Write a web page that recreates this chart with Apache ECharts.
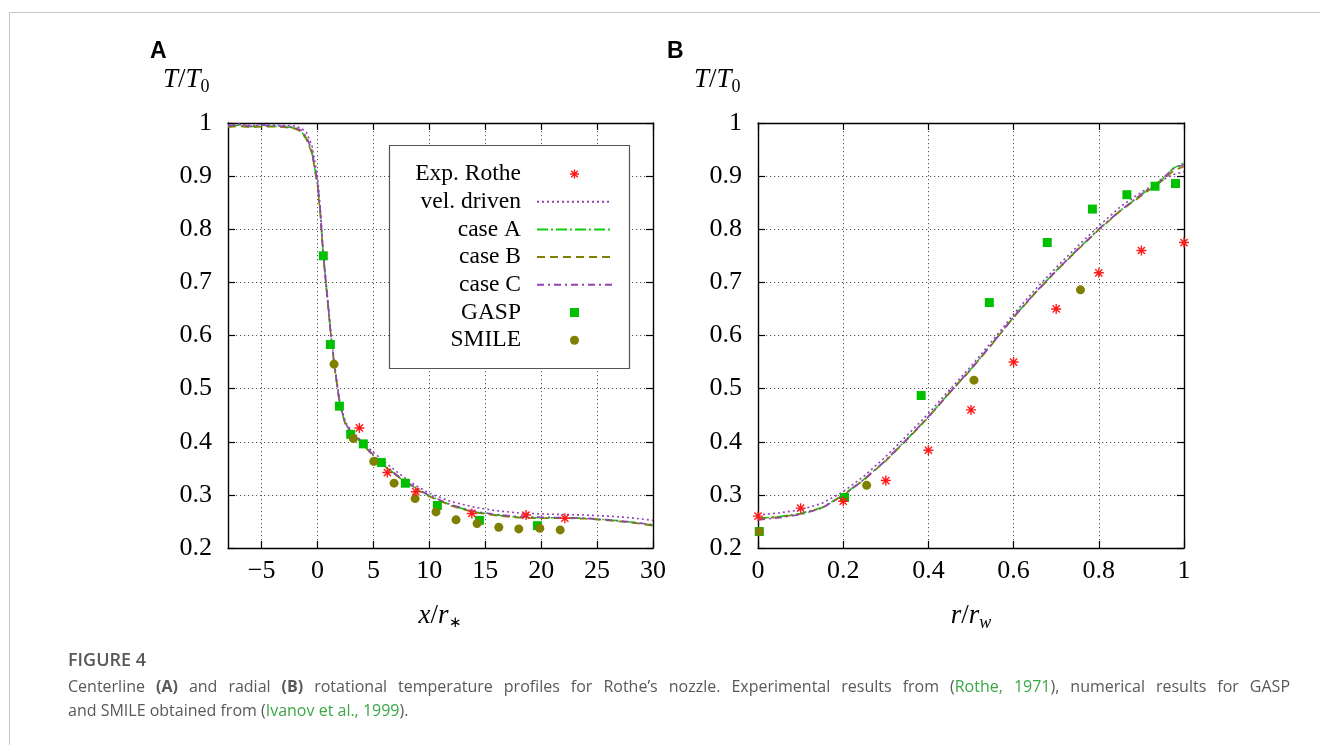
<!DOCTYPE html>
<html>
<head>
<meta charset="utf-8">
<script src="https://cdn.jsdelivr.net/npm/echarts@6/dist/echarts.min.js"></script>
<style>
html,body{margin:0;padding:0;background:#fff;}
#chart{width:1320px;height:745px;}
</style>
</head>
<body>
<div id="chart"></div>
<script>
// ---------- Panel A : centerline profile ----------
const xTicksA = [-5, 0, 5, 10, 15, 20, 25, 30];
const xA = [-8, -7, -6, -5, -4, -3, -2.5, -2, -1.5, -1, -0.5, 0, 0.25, 0.5, 0.75, 1, 1.25, 1.5, 2, 2.5, 3, 3.5, 4, 5, 6, 7, 8, 9, 10, 12, 14, 16, 18, 20, 22, 24, 26, 28, 30];
const aVelDriven = [0.996, 0.998, 0.995, 0.997, 0.996, 0.995, 0.995, 0.994, 0.991, 0.983, 0.958, 0.9, 0.84, 0.762, 0.705, 0.65, 0.595, 0.55, 0.474, 0.437, 0.421, 0.411, 0.4, 0.38, 0.362, 0.345, 0.329, 0.315, 0.303, 0.287, 0.277, 0.27, 0.266, 0.264, 0.263, 0.262, 0.26, 0.257, 0.252];
const aCaseA = [0.994, 0.996, 0.993, 0.995, 0.994, 0.993, 0.992, 0.99, 0.985, 0.972, 0.945, 0.885, 0.832, 0.755, 0.7, 0.645, 0.59, 0.545, 0.47, 0.433, 0.418, 0.408, 0.397, 0.374, 0.355, 0.338, 0.323, 0.31, 0.298, 0.28, 0.268, 0.262, 0.258, 0.257, 0.257, 0.256, 0.253, 0.249, 0.243];
const aCaseB = [0.992, 0.994, 0.992, 0.993, 0.993, 0.992, 0.991, 0.989, 0.984, 0.97, 0.943, 0.883, 0.83, 0.753, 0.698, 0.643, 0.589, 0.544, 0.469, 0.432, 0.417, 0.407, 0.396, 0.373, 0.354, 0.337, 0.322, 0.309, 0.297, 0.279, 0.267, 0.261, 0.257, 0.256, 0.256, 0.255, 0.252, 0.248, 0.242];
const aCaseC = [0.995, 0.997, 0.994, 0.996, 0.995, 0.994, 0.993, 0.991, 0.987, 0.975, 0.949, 0.89, 0.836, 0.758, 0.702, 0.647, 0.592, 0.547, 0.471, 0.434, 0.419, 0.409, 0.398, 0.375, 0.356, 0.339, 0.324, 0.311, 0.299, 0.281, 0.269, 0.263, 0.259, 0.258, 0.257, 0.256, 0.253, 0.249, 0.244];
const aRotheX = [3.75, 6.25, 8.79, 13.8, 18.65, 22.12];
const aRotheY = [0.426, 0.342, 0.306, 0.265, 0.262, 0.256];
const aGaspX = [0.52, 1.15, 1.96, 2.97, 4.1, 5.71, 7.86, 10.72, 14.48, 19.67];
const aGaspY = [0.75, 0.583, 0.467, 0.414, 0.396, 0.361, 0.322, 0.28, 0.252, 0.242];
const aSmileX = [1.48, 3.21, 5.03, 6.85, 8.73, 10.6, 12.39, 14.27, 16.21, 18.0, 19.88, 21.7];
const aSmileY = [0.546, 0.406, 0.363, 0.322, 0.293, 0.268, 0.253, 0.246, 0.239, 0.236, 0.237, 0.234];

// ---------- Panel B : radial profile ----------
const xB = [0, 0.05, 0.1, 0.15, 0.2, 0.25, 0.3, 0.35, 0.4, 0.45, 0.5, 0.55, 0.6, 0.65, 0.7, 0.75, 0.8, 0.85, 0.9, 0.95, 0.975, 1];
const bVelDriven = [0.262, 0.266, 0.272, 0.284, 0.306, 0.336, 0.372, 0.412, 0.453, 0.498, 0.542, 0.59, 0.64, 0.686, 0.728, 0.768, 0.806, 0.842, 0.87, 0.893, 0.903, 0.908];
const bCaseA = [0.256, 0.259, 0.265, 0.276, 0.3, 0.33, 0.365, 0.405, 0.447, 0.493, 0.537, 0.585, 0.635, 0.68, 0.722, 0.762, 0.8, 0.835, 0.865, 0.895, 0.915, 0.925];
const bCaseB = [0.256, 0.258, 0.264, 0.275, 0.299, 0.329, 0.364, 0.404, 0.446, 0.492, 0.536, 0.584, 0.634, 0.679, 0.721, 0.761, 0.799, 0.834, 0.863, 0.892, 0.91, 0.918];
const bCaseC = [0.253, 0.257, 0.263, 0.275, 0.299, 0.33, 0.365, 0.405, 0.447, 0.493, 0.537, 0.585, 0.635, 0.68, 0.722, 0.762, 0.8, 0.835, 0.866, 0.896, 0.914, 0.922];
const bRotheX = [0, 0.1, 0.2, 0.3, 0.4, 0.5, 0.6, 0.7, 0.8, 0.9, 1.0];
const bRotheY = [0.26, 0.275, 0.288, 0.327, 0.384, 0.46, 0.55, 0.65, 0.718, 0.76, 0.775];
const bGaspX = [0.003, 0.203, 0.383, 0.543, 0.679, 0.785, 0.866, 0.932, 0.98];
const bGaspY = [0.231, 0.295, 0.487, 0.662, 0.775, 0.838, 0.865, 0.881, 0.886];
const bSmileX = [0.003, 0.255, 0.507, 0.757];
const bSmileY = [0.231, 0.318, 0.516, 0.686];

const seriesNames = ['Exp. Rothe', 'vel. driven', 'case A', 'case B', 'case C', 'GASP', 'SMILE'];
const lineNames = ['vel. driven', 'case A', 'case B', 'case C'];

// caption words (line 1 is justified); each word = list of [text, style]
const captionLine1 = [
  [['Centerline', 'r']], [['(A)', 'b']], [['and', 'r']], [['radial', 'r']], [['(B)', 'b']],
  [['rotational', 'r']], [['temperature', 'r']], [['profiles', 'r']], [['for', 'r']],
  [['Rothe\u2019s', 'r']], [['nozzle.', 'r']], [['Experimental', 'r']], [['results', 'r']],
  [['from', 'r']], [['(', 'r'], ['Rothe,', 'g']], [['1971', 'g'], ['),', 'r']],
  [['numerical', 'r']], [['results', 'r']], [['for', 'r']], [['GASP', 'r']]
];
const captionLine2 = 'and SMILE obtained from ({g|Ivanov et al., 1999}).';

// ---------- styling ----------
const SERIF = 'Liberation Serif';
const C_RED = '#ff1a1a', C_PURPLE = '#9440b8', C_GREEN = '#11cc11', C_OLIVE = '#808000', C_GASP = '#00c000';
const ASTERISK = 'path://M0,-5L0,5M-5,0L5,0M-3.6,-3.6L3.6,3.6M-3.6,3.6L3.6,-3.6';
const SQUARE = 'path://M0,0L10,0L10,10L0,10Z';

const zip = (xs, ys) => xs.map((x, i) => [x, ys[i]]);
const fmtNum = v => {
  if (Math.abs(v) < 1e-9) return '0';
  const s = Math.abs(v - Math.round(v)) < 1e-9 ? String(Math.round(v)) : v.toFixed(1);
  return s.replace('-', '\u2212');
};

const grids = [
  { left: 228, top: 123, width: 425, height: 425 },
  { left: 758, top: 123, width: 426, height: 425 }
];

const gridLine = { show: true, lineStyle: { color: '#555', width: 1, type: [1.2, 2.8] } };
const frameLine = { show: true, onZero: false, lineStyle: { color: '#000', width: 1.4 } };
const tickIn = { show: true, inside: true, length: 7, lineStyle: { color: '#000', width: 1.2 } };
const labelStyle = { color: '#000', fontFamily: SERIF, fontSize: 26 };

function mainX(gi, min, max, extra) {
  return Object.assign({
    type: 'value', gridIndex: gi, position: 'bottom', min: min, max: max,
    axisLine: frameLine, splitLine: gridLine,
    axisLabel: Object.assign({ margin: 10, formatter: fmtNum }, labelStyle)
  }, extra);
}

const nameRich = {
  i: { fontFamily: SERIF, fontStyle: 'italic', fontWeight: 'normal', fontSize: 27, color: '#000' },
  n: { fontFamily: SERIF, fontWeight: 'normal', fontSize: 27, color: '#000' },
  s: { fontFamily: SERIF, fontWeight: 'normal', fontSize: 18, color: '#000', padding: [14, 0, 0, 0] },
  st: { fontFamily: SERIF, fontWeight: 'normal', fontSize: 15, color: '#000', padding: [16, 0, 0, 1] },
  si: { fontFamily: SERIF, fontStyle: 'italic', fontWeight: 'normal', fontSize: 18, color: '#000', padding: [14, 0, 0, 0] }
};

const xAxis = [
  mainX(0, -8, 30, {
    axisTick: Object.assign({ customValues: xTicksA }, tickIn),
    axisLabel: Object.assign({ margin: 10, formatter: fmtNum, customValues: xTicksA }, labelStyle),
    name: '{i|x}{n|/}{i|r}{st|\u2217}', nameLocation: 'middle', nameGap: 52,
    nameTextStyle: { rich: nameRich }
  }),
  { type: 'value', gridIndex: 0, position: 'top', min: -8, max: 30,
    axisLine: frameLine, splitLine: { show: false }, axisLabel: { show: false },
    axisTick: Object.assign({ customValues: xTicksA }, tickIn) },
  mainX(1, 0, 1, {
    interval: 0.2, axisTick: tickIn,
    name: '{i|r}{n|/}{i|r}{si|w}', nameLocation: 'middle', nameGap: 52,
    nameTextStyle: { rich: nameRich }
  }),
  { type: 'value', gridIndex: 1, position: 'top', min: 0, max: 1, interval: 0.2,
    axisLine: frameLine, splitLine: { show: false }, axisLabel: { show: false }, axisTick: tickIn }
];

function yPair(gi) {
  return [
    { type: 'value', gridIndex: gi, position: 'left', min: 0.2, max: 1, interval: 0.1,
      axisLine: frameLine, axisTick: tickIn, splitLine: gridLine,
      axisLabel: Object.assign({ margin: 16, formatter: fmtNum }, labelStyle) },
    { type: 'value', gridIndex: gi, position: 'right', min: 0.2, max: 1, interval: 0.1,
      axisLine: frameLine, axisTick: tickIn, splitLine: { show: false }, axisLabel: { show: false } }
  ];
}
const yAxis = yPair(0).concat(yPair(1));

function lineSeries(name, xi, yi, xs, ys, color, type, z) {
  return {
    name: name, type: 'line', xAxisIndex: xi, yAxisIndex: yi, data: zip(xs, ys),
    symbol: 'none', smooth: false, z: z,
    lineStyle: { color: color, width: 1.6, type: type },
    itemStyle: { color: color }
  };
}
function scatterSeries(name, xi, yi, xs, ys, symbol, size, color) {
  const s = {
    name: name, type: 'scatter', xAxisIndex: xi, yAxisIndex: yi, data: zip(xs, ys),
    symbol: symbol, symbolSize: size, z: 5,
    itemStyle: { color: color, opacity: 1 }
  };
  if (symbol === ASTERISK) s.itemStyle = { color: color, borderColor: color, borderWidth: 1.4, opacity: 1 };
  return s;
}

const DOT = [2, 3], DASHDOT_A = [11, 3, 2, 3], DASH_B = [8, 5], DASHDOT_C = [7, 4, 2, 4];

const series = [
  // panel A
  lineSeries('case A', 0, 0, xA, aCaseA, C_GREEN, DASHDOT_A, 2),
  lineSeries('case B', 0, 0, xA, aCaseB, C_OLIVE, DASH_B, 2),
  lineSeries('case C', 0, 0, xA, aCaseC, C_PURPLE, DASHDOT_C, 3),
  lineSeries('vel. driven', 0, 0, xA, aVelDriven, C_PURPLE, DOT, 3),
  scatterSeries('GASP', 0, 0, aGaspX, aGaspY, SQUARE, 9, C_GASP),
  scatterSeries('SMILE', 0, 0, aSmileX, aSmileY, 'circle', 9, C_OLIVE),
  scatterSeries('Exp. Rothe', 0, 0, aRotheX, aRotheY, ASTERISK, 10, C_RED),
  // panel B
  lineSeries('case A', 2, 2, xB, bCaseA, C_GREEN, DASHDOT_A, 2),
  lineSeries('case B', 2, 2, xB, bCaseB, C_OLIVE, DASH_B, 2),
  lineSeries('case C', 2, 2, xB, bCaseC, C_PURPLE, DASHDOT_C, 3),
  lineSeries('vel. driven', 2, 2, xB, bVelDriven, C_PURPLE, DOT, 3),
  scatterSeries('GASP', 2, 2, bGaspX, bGaspY, SQUARE, 9, C_GASP),
  scatterSeries('SMILE', 2, 2, bSmileX, bSmileY, 'circle', 9, C_OLIVE),
  scatterSeries('Exp. Rothe', 2, 2, bRotheX, bRotheY, ASTERISK, 10, C_RED)
];

// ---------- caption (justified first line) ----------
const capGray = '#58595b', capGreen = '#3aa845', CAP_FONT = 'Open Sans', CAP_SIZE = 16;
const CAP_LEFT = 68, CAP_RIGHT = 1290;
const measureCtx = document.createElement('canvas').getContext('2d');
function measure(text, bold) {
  measureCtx.font = (bold ? 'bold ' : '') + CAP_SIZE + 'px "' + CAP_FONT + '"';
  return measureCtx.measureText(text).width;
}
let wordsWidth = 0;
captionLine1.forEach(w => w.forEach(seg => { wordsWidth += measure(seg[0], seg[1] === 'b'); }));
const gapWidth = Math.max(3, (CAP_RIGHT - CAP_LEFT - wordsWidth) / (captionLine1.length - 1));
const captionLine1Rich = captionLine1.map(w => w.map(seg => '{' + seg[1] + '|' + seg[0] + '}').join('')).join('{sp| }');

const capRich = {
  r: { fontFamily: CAP_FONT, fontWeight: 'normal', fontSize: CAP_SIZE, color: capGray },
  b: { fontFamily: CAP_FONT, fontWeight: 'bold', fontSize: CAP_SIZE, color: capGray },
  g: { fontFamily: CAP_FONT, fontWeight: 'normal', fontSize: CAP_SIZE, color: capGreen },
  sp: { fontFamily: CAP_FONT, fontWeight: 'normal', fontSize: CAP_SIZE, width: gapWidth }
};
const capStyle = { fontFamily: CAP_FONT, fontWeight: 'normal', fontSize: CAP_SIZE, color: capGray, rich: capRich };

const option = {
  animation: false,
  backgroundColor: '#fff',
  grid: grids,
  xAxis: xAxis,
  yAxis: yAxis,
  legend: {
    orient: 'vertical', align: 'right', selectedMode: false,
    right: 1320 - 613, top: 162, padding: 0,
    itemWidth: 75, itemHeight: 9, itemGap: 3.7, z: 6,
    textStyle: { fontFamily: SERIF, fontSize: 23.5, lineHeight: 22, color: '#000', padding: [0, 11, 0, 0] },
    data: seriesNames.map(n => {
      if (n === 'Exp. Rothe') return { name: n, itemStyle: { borderWidth: 1.4 } };
      if (lineNames.indexOf(n) >= 0) return { name: n, itemStyle: { opacity: 0 } };
      return { name: n };
    })
  },
  title: [
    { text: 'A', left: 150, top: 40, padding: 0, textStyle: { fontFamily: 'Liberation Sans', fontWeight: 'bold', fontSize: 23, color: '#000' } },
    { text: 'B', left: 667, top: 40, padding: 0, textStyle: { fontFamily: 'Liberation Sans', fontWeight: 'bold', fontSize: 23, color: '#000' } },
    { text: '{i|T}{n|/}{i|T}{s|0}', left: 163, top: 64, padding: 0, textStyle: { fontWeight: 'normal', rich: nameRich } },
    { text: '{i|T}{n|/}{i|T}{s|0}', left: 694, top: 64, padding: 0, textStyle: { fontWeight: 'normal', rich: nameRich } },
    { text: 'FIGURE 4', left: CAP_LEFT, top: 652, padding: 0,
      textStyle: { fontFamily: CAP_FONT, fontWeight: 600, fontSize: 18, color: capGray } },
    { text: captionLine1Rich, left: CAP_LEFT, top: 679, padding: 0, textStyle: capStyle },
    { text: captionLine2, left: CAP_LEFT, top: 703, padding: 0, textStyle: capStyle }
  ],
  graphic: [
    { type: 'rect', z: 1, silent: true, shape: { x: 9.5, y: 12.5, width: 1320, height: 740 },
      style: { fill: 'none', stroke: '#c4c4c4', lineWidth: 1 } },
    { type: 'rect', z: 4, silent: true, shape: { x: 389.5, y: 145.5, width: 240, height: 223 },
      style: { fill: '#fff', stroke: '#555', lineWidth: 1.2 } }
  ],
  series: series
};

const chart = echarts.init(document.getElementById('chart'), null, { renderer: 'canvas' });
chart.setOption(option);
</script>
</body>
</html>
